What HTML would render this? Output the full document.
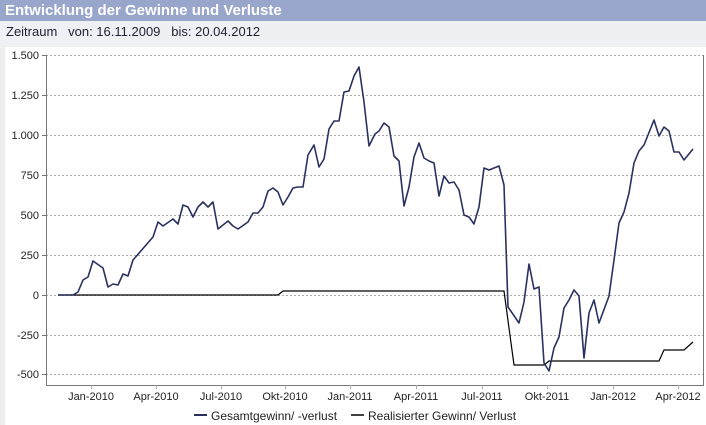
<!DOCTYPE html>
<html><head><meta charset="utf-8"><style>
body{margin:0;width:706px;height:425px;overflow:hidden;background:#eeeeee;font-family:"Liberation Sans",Arial,sans-serif;}
#hd{position:absolute;left:0;top:0;width:706px;height:21px;background:#98a6cc;color:#fff;font-weight:bold;font-size:15px;line-height:21px;text-indent:5px;}
#sub{position:absolute;left:0;top:21px;width:706px;height:25px;background:#eef0f3;color:#223;font-size:13px;line-height:22px;text-indent:6px;}
svg{position:absolute;left:0;top:0;}
</style></head><body>
<div id="hd">Entwicklung der Gewinne und Verluste</div>
<div id="sub">Zeitraum&nbsp;&nbsp;&nbsp;von: 16.11.2009&nbsp;&nbsp;&nbsp;bis: 20.04.2012</div>
<svg width="706" height="425" viewBox="0 0 706 425" font-family="Liberation Sans, Arial, sans-serif">
<rect x="5" y="47" width="701" height="378" fill="#fff"/>
<g stroke="#aaa" stroke-width="1" stroke-dasharray="2,2">
<line x1="46" x2="703" y1="55.5" y2="55.5"/>
<line x1="46" x2="703" y1="95.5" y2="95.5"/>
<line x1="46" x2="703" y1="135.5" y2="135.5"/>
<line x1="46" x2="703" y1="175.5" y2="175.5"/>
<line x1="46" x2="703" y1="215.5" y2="215.5"/>
<line x1="46" x2="703" y1="255.5" y2="255.5"/>
<line x1="46" x2="703" y1="295.5" y2="295.5"/>
<line x1="46" x2="703" y1="335.5" y2="335.5"/>
<line x1="46" x2="703" y1="374.5" y2="374.5"/>
</g>
<g stroke="#777" fill="none">
<polyline points="46.5,55 46.5,385.5 703.5,385.5 703.5,55"/>
<line x1="42" x2="46" y1="55.5" y2="55.5"/><line x1="42" x2="46" y1="95.5" y2="95.5"/><line x1="42" x2="46" y1="135.5" y2="135.5"/><line x1="42" x2="46" y1="175.5" y2="175.5"/><line x1="42" x2="46" y1="215.5" y2="215.5"/><line x1="42" x2="46" y1="255.5" y2="255.5"/><line x1="42" x2="46" y1="295.5" y2="295.5"/><line x1="42" x2="46" y1="335.5" y2="335.5"/><line x1="42" x2="46" y1="374.5" y2="374.5"/>
<g stroke="#aaa"><line x1="91.5" x2="91.5" y1="385" y2="389"/><line x1="156.5" x2="156.5" y1="385" y2="389"/><line x1="221.5" x2="221.5" y1="385" y2="389"/><line x1="285.5" x2="285.5" y1="385" y2="389"/><line x1="350.5" x2="350.5" y1="385" y2="389"/><line x1="416.5" x2="416.5" y1="385" y2="389"/><line x1="482.5" x2="482.5" y1="385" y2="389"/><line x1="547.5" x2="547.5" y1="385" y2="389"/><line x1="613.5" x2="613.5" y1="385" y2="389"/><line x1="678.5" x2="678.5" y1="385" y2="389"/></g>
</g>
<g font-size="11" fill="#222" text-anchor="end">
<text x="39" y="59">1.500</text><text x="39" y="99">1.250</text><text x="39" y="139">1.000</text><text x="39" y="179">750</text><text x="39" y="219">500</text><text x="39" y="259">250</text><text x="39" y="299">0</text><text x="39" y="339">-250</text><text x="39" y="378">-500</text>
</g>
<g font-size="11" fill="#222" text-anchor="middle">
<text x="91" y="400">Jan-2010</text><text x="156" y="400">Apr-2010</text><text x="221" y="400">Jul-2010</text><text x="285" y="400">Okt-2010</text><text x="350" y="400">Jan-2011</text><text x="416" y="400">Apr-2011</text><text x="482" y="400">Jul-2011</text><text x="547" y="400">Okt-2011</text><text x="613" y="400">Jan-2012</text><text x="678" y="400">Apr-2012</text>
</g>
<polyline fill="none" stroke="#000" stroke-width="1.2" points="58,295 278,295 283,291 504,291 514,365 544,365 549,361 659,361 664,350 684,350 693,342"/>
<polyline fill="none" stroke="#2a3160" stroke-width="1.6" stroke-linejoin="round" points="58,295 73,295 78,292 83,280 88,277 93,261 103,268 108,287 113,284 118,285 123,274 128,276 133,260 153,237 158,222 163,226 173,219 178,224 183,205 188,207 193,217 198,207 203,202 208,207 213,202 218,229 228,221 233,226 238,229 248,222 253,213 258,213 263,207 268,191 273,188 278,192 283,205 288,197 293,188 298,187 303,187 308,155 314,145 319,167 324,159 329,129 334,121 339,121 344,92 349,91 354,76 359,67 364,102 369,146 375,134 379,131 384,123 389,127 394,156 399,161 404,206 409,187 414,157 419,143 424,158 429,161 434,163 439,196 444,176 449,183 454,182 459,190 464,215 469,217 474,224 479,207 484,168 489,170 499,166 504,185 508,307 519,323 524,302 529,264 534,289 539,287 544,363 549,371 554,348 559,337 564,308 569,300 574,290 579,296 584,358 589,313 594,300 599,323 609,296 614,260 619,223 624,212 629,193 634,163 639,151 644,145 654,120 659,136 664,127 669,131 674,152 679,152 684,160 693,149"/>
<line x1="194" x2="207" y1="415" y2="415" stroke="#2a3160" stroke-width="2"/>
<text x="211" y="420" font-size="12" fill="#222">Gesamtgewinn/ -verlust</text>
<line x1="351" x2="364" y1="415" y2="415" stroke="#000" stroke-width="1.5"/>
<text x="368" y="420" font-size="12" fill="#222">Realisierter Gewinn/ Verlust</text>
</svg>
</body></html>
